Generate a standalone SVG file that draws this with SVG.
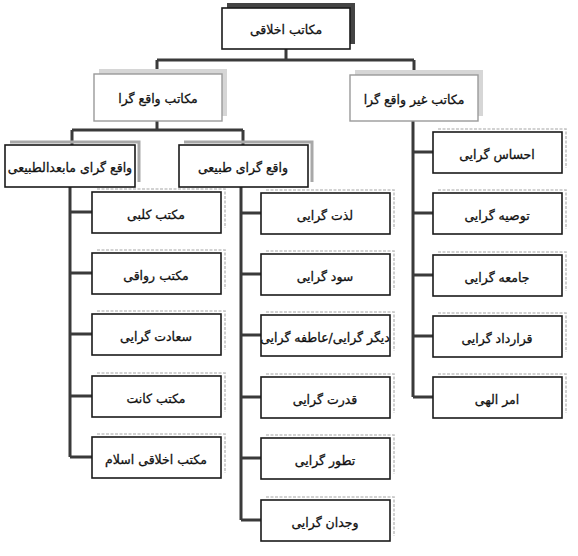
<svg xmlns="http://www.w3.org/2000/svg" width="578" height="556" viewBox="0 0 578 556">
<style>
.box{fill:#fff;stroke:#1a1a1a;stroke-width:1.6}
.faint{fill:#fff;stroke:#9a9a9a;stroke-width:1.4}
.sh{fill:none;stroke:#c4c4c4;stroke-width:1.6;stroke-dasharray:3 1.5}
.sh2{fill:none;stroke:#a8a8a8;stroke-width:3}
.lbl{font-family:"DejaVu Sans",sans-serif;font-size:12.5px;fill:#111;stroke:#111;stroke-width:0.3;text-anchor:middle}
.con{fill:none;stroke:#3a3a3a;stroke-width:3}
</style>
<rect width="578" height="556" fill="#fff"/>
<g id="connectors">
<path class="con" d="M286 49V60M157 60H414M157 60V74M414 60V75"/>
<path class="con" d="M157 121V130M72 130H243M72 130V145M243 130V145"/>
<path class="con" d="M70 187V457M70 212H92M70 273H92M70 334H92M70 396H92M70 457H92"/>
<path class="con" d="M241 187V520M241 213H261M241 274H261M241 335H261M241 397H261M241 458H261M241 520H261"/>
<path class="con" d="M413 121V397M413 152H433M413 213H433M413 275H433M413 336H433M413 397H433"/>
</g>
<g id="n-root"><rect x="227" y="3" width="128" height="41" fill="#444"/><rect class="box" x="222" y="8" width="128" height="41"/><text class="lbl" x="286" y="34">مکاتب اخلاقی</text></g>
<g id="n-realist"><rect x="99" y="69" width="128" height="47" fill="#d6d6d6"/><rect class="faint" x="94" y="74" width="128" height="47"/><text class="lbl" x="158" y="103">مکاتب واقع گرا</text></g>
<g id="n-nonrealist"><rect x="355" y="70" width="128" height="46" fill="#d6d6d6"/><rect class="faint" x="350" y="75" width="128" height="46"/><text class="lbl" x="414" y="104">مکاتب غیر واقع گرا</text></g>
<g id="n-meta"><path class="sh2" d="M10 142H139V182"/><rect class="box" x="5" y="145" width="130" height="42"/><text class="lbl" x="70" y="172">واقع گرای مابعدالطبیعی</text></g>
<g id="n-nat"><path class="sh2" d="M184 142H312V182"/><rect class="box" x="179" y="145" width="129" height="42"/><text class="lbl" x="243" y="172">واقع گرای طبیعی</text></g>
<g id="n-kolbi"><path class="sh" d="M97 189H225V228"/><rect class="box" x="92" y="192" width="129" height="41"/><text class="lbl" x="156" y="219">مکتب کلبی</text></g>
<g id="n-ravaghi"><path class="sh" d="M97 250H225V289"/><rect class="box" x="92" y="253" width="129" height="41"/><text class="lbl" x="156" y="280">مکتب رواقی</text></g>
<g id="n-saadat"><path class="sh" d="M97 311H225V350"/><rect class="box" x="92" y="314" width="129" height="41"/><text class="lbl" x="156" y="341">سعادت گرایی</text></g>
<g id="n-kant"><path class="sh" d="M97 373H225V412"/><rect class="box" x="92" y="376" width="129" height="41"/><text class="lbl" x="156" y="403">مکتب کانت</text></g>
<g id="n-islam"><path class="sh" d="M97 434H225V473"/><rect class="box" x="92" y="437" width="129" height="41"/><text class="lbl" x="156" y="464">مکتب اخلاقی اسلام</text></g>
<g id="n-lezzat"><path class="sh" d="M266 190H394V229"/><rect class="box" x="261" y="193" width="129" height="41"/><text class="lbl" x="325" y="220">لذت گرایی</text></g>
<g id="n-sud"><path class="sh" d="M266 251H394V290"/><rect class="box" x="261" y="254" width="129" height="41"/><text class="lbl" x="325" y="281">سود گرایی</text></g>
<g id="n-digar"><path class="sh" d="M266 312H394V351"/><rect class="box" x="261" y="315" width="129" height="41"/><text class="lbl" x="325" y="342">دیگر گرایی/عاطفه گرایی</text></g>
<g id="n-ghodrat"><path class="sh" d="M266 374H394V413"/><rect class="box" x="261" y="377" width="129" height="41"/><text class="lbl" x="325" y="404">قدرت گرایی</text></g>
<g id="n-tatavor"><path class="sh" d="M266 435H394V474"/><rect class="box" x="261" y="438" width="129" height="41"/><text class="lbl" x="325" y="465">تطور گرایی</text></g>
<g id="n-vejdan"><path class="sh" d="M266 497H394V536"/><rect class="box" x="261" y="500" width="129" height="41"/><text class="lbl" x="325" y="527">وجدان گرایی</text></g>
<g id="n-ehsas"><path class="sh" d="M438 129H566V168"/><rect class="box" x="433" y="132" width="129" height="41"/><text class="lbl" x="497" y="159">احساس گرایی</text></g>
<g id="n-tosieh"><path class="sh" d="M438 190H566V229"/><rect class="box" x="433" y="193" width="129" height="41"/><text class="lbl" x="497" y="220">توصیه گرایی</text></g>
<g id="n-jameh"><path class="sh" d="M438 252H566V291"/><rect class="box" x="433" y="255" width="129" height="41"/><text class="lbl" x="497" y="282">جامعه گرایی</text></g>
<g id="n-gharardad"><path class="sh" d="M438 313H566V352"/><rect class="box" x="433" y="316" width="129" height="41"/><text class="lbl" x="497" y="343">قرارداد گرایی</text></g>
<g id="n-amr"><path class="sh" d="M438 374H566V413"/><rect class="box" x="433" y="377" width="129" height="41"/><text class="lbl" x="497" y="404">امر الهی</text></g>
</svg>
